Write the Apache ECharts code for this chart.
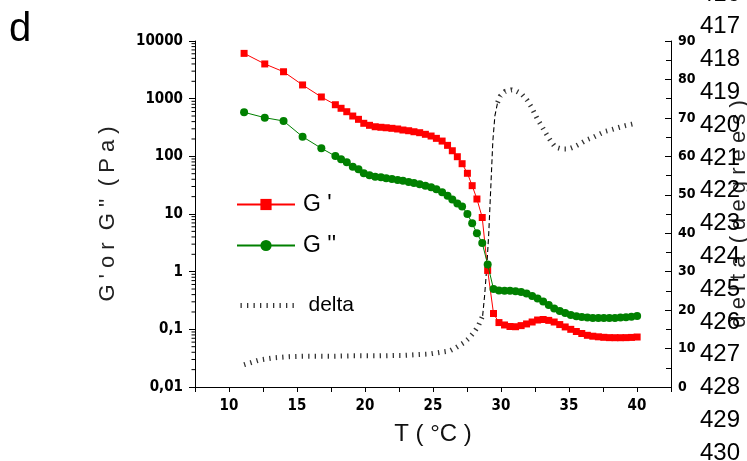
<!DOCTYPE html>
<html><head><meta charset="utf-8">
<script src="https://cdn.jsdelivr.net/npm/echarts@6/dist/echarts.min.js"></script>
<style>html,body{margin:0;padding:0;background:#fff}#c{width:747px;height:461px}</style>
</head><body><div id="c"></div>
<script>
// Temperature (°C) of each measured point (G' and G'')
var temps = [11.11,12.63,14.01,15.41,16.79,17.82,18.24,18.66,19.10,19.52,19.91,20.33,20.75,21.17,21.56,21.98,22.40,22.79,23.21,23.60,24.02,24.44,24.86,25.25,25.67,26.07,26.42,26.79,27.14,27.53,27.88,28.23,28.62,29.02,29.45,29.85,30.26,30.66,31.07,31.48,31.88,32.29,32.69,33.10,33.51,33.91,34.32,34.72,35.13,35.54,35.94,36.35,36.75,37.16,37.56,37.97,38.38,38.78,39.19,39.59,40.01];
// G' (Pa)
var gPrime = [6100,4000,2930,1730,1070,785,681,594,500,438,374,345,326,319,313,306,298,286,278,267,257,241,225,205,184,155,125,98.5,74.5,50.8,31,18.2,8.7,1.05,0.188,0.131,0.119,0.112,0.111,0.116,0.124,0.134,0.145,0.148,0.143,0.134,0.121,0.110,0.100,0.0917,0.0847,0.0788,0.076,0.0742,0.0727,0.0718,0.0716,0.0716,0.0718,0.0724,0.0736];
// G'' (Pa)
var gDouble = [580,468,410,219,138,101,88.8,78.7,66.1,59.6,50.8,46.9,44.4,43.3,41.6,40.5,38.8,37.8,35.9,34.5,32.7,31.0,29.1,26.8,23.8,20.7,17.8,15.2,13.5,10.0,6.9,4.62,3.14,1.33,0.50,0.471,0.468,0.468,0.458,0.444,0.418,0.378,0.343,0.304,0.264,0.230,0.208,0.192,0.177,0.168,0.164,0.160,0.157,0.157,0.157,0.157,0.158,0.160,0.162,0.165,0.170];
// delta (degrees)
var deltaT = [11.11,12.21,13.32,14.43,15.53,16.64,17.75,18.86,19.96,21.07,22.18,22.79,23.77,24.76,25.50,26.24,26.73,27.22,27.59,28.01,28.33,28.65,28.80,28.95,29.10,29.25,29.40,29.55,29.75,29.95,30.30,30.79,31.16,31.53,31.90,32.27,32.63,33.00,33.37,33.67,33.99,34.48,34.97,35.34,35.83,36.32,36.81,37.31,37.68,38.10,38.66,39.15,39.65,40.01];
var deltaVal = [5.8,7.0,7.6,7.9,8.0,8.0,8.0,8.1,8.1,8.1,8.2,8.2,8.4,8.6,9.0,9.4,10.3,11.4,12.5,14.2,15.9,18.5,24,31,40,52,64,70.5,74,75.7,76.9,77.3,76.9,76.2,74.7,72.6,70.0,67.8,65.6,63.9,62.4,61.9,61.9,62.4,63.3,64.3,65.0,65.9,66.5,66.9,67.5,68.0,68.4,68.7];
// tick labels
var xTickLabels = [10,15,20,25,30,35,40];
var leftTickLabels = ['0,01','0,1','1','10','100','1000','10000'];
var rightTickLabels = [0,10,20,30,40,50,60,70,80,90];
var lineNumbers = [416,417,418,419,420,421,422,423,424,425,426,427,428,429,430];

var steepLo = 28.65, steepHi = 29.75;
var deltaFlat = deltaT.map(function(t,i){ return (t<=steepLo||t>=steepHi)?[t,deltaVal[i]]:[t,'-']; });
var deltaSteep = deltaT.map(function(t,i){ return (t>=steepLo&&t<=steepHi)?[t,deltaVal[i]]:[t,'-']; });

// minor tick values of the log axis (2..9 within each decade)
var minorVals = [];
[0.01,0.1,1,10,100,1000].forEach(function(d){ for(var k=2;k<=9;k++) minorVals.push(+(d*k).toPrecision(3)); });

var labFont = "'DejaVu Sans Condensed','Liberation Sans Narrow','DejaVu Sans',sans-serif";
var nameFont = "'Liberation Sans',Arial,sans-serif";
var deltaLine = {color:'#333', width:5, type:[1.3,5.2]};

var chart = echarts.init(document.getElementById('c'));
var graphics = [{type:'text', left:9, top:10, style:{text:'d', font:'40px '+nameFont, fill:'#000'}}];
lineNumbers.forEach(function(n){
  graphics.push({type:'text', x:700, y:26.7+(n-417)*32.8, style:{text:String(n), font:'24px '+nameFont, fill:'#000', verticalAlign:'middle', align:'left'}, z:10});
});

chart.setOption({
  animation:false,
  backgroundColor:'#fff',
  grid:{left:195, right:76, top:41, bottom:74, containLabel:false, outerBoundsMode:'none'},
  legend:[
    {orient:'vertical', left:231, top:188, itemWidth:58, itemHeight:14, itemGap:18, data:["G '","G ''"],
     textStyle:{fontFamily:nameFont, fontSize:23, color:'#000', padding:[0,0,0,3]}},
    {orient:'vertical', left:233, top:290, itemWidth:55, itemHeight:14,
     data:[{name:'delta', itemStyle:{opacity:0}, lineStyle:deltaLine}],
     textStyle:{fontFamily:nameFont, fontSize:21, color:'#000', padding:[0,0,0,8]}}
  ],
  xAxis:{type:'value', min:7.5, max:42.5, interval:2.5,
    name:'T ( °C )', nameLocation:'middle', nameGap:35,
    nameTextStyle:{fontFamily:nameFont, fontSize:24, color:'#111'},
    axisLine:{lineStyle:{color:'#000', width:1}},
    axisTick:{inside:false, length:5, lineStyle:{color:'#000'}},
    splitLine:{show:false},
    axisLabel:{margin:12, fontFamily:labFont, fontWeight:'bold', fontSize:15, color:'#000',
      formatter:function(v){ return xTickLabels.indexOf(v)>=0 ? String(v) : ''; }}
  },
  yAxis:[
    {type:'log', logBase:10, min:0.01, max:10000, position:'left',
     name:'G \' o r  G \'\'  ( P a )', nameLocation:'middle', nameGap:76, nameRotate:90,
     nameTextStyle:{fontFamily:nameFont, fontSize:22, color:'#222'},
     axisLine:{show:true, lineStyle:{color:'#000'}},
     axisTick:{inside:false, length:6, lineStyle:{color:'#000'}},
     splitLine:{show:false},
     axisLabel:{margin:12, fontFamily:labFont, fontWeight:'bold', fontSize:15, color:'#000',
       formatter:function(v){ var e=Math.round(Math.log10(v)); return leftTickLabels[e+2]; }}
    },
    {type:'value', min:0, max:90, interval:10, position:'right',
     name:'d e l t a  ( d e g r e e s )', nameLocation:'middle', nameGap:57, nameRotate:90,
     nameTextStyle:{fontFamily:nameFont, fontSize:22, color:'#222'},
     axisLine:{show:true, lineStyle:{color:'#000'}},
     axisTick:{inside:true, length:6, lineStyle:{color:'#000'}},
     minorTick:{show:true, splitNumber:2, length:5, lineStyle:{color:'#000'}},
     splitLine:{show:false},
     axisLabel:{margin:7, fontFamily:labFont, fontWeight:'bold', fontSize:14, color:'#000',
       formatter:function(v){ return rightTickLabels.indexOf(v)>=0 ? String(v) : ''; }}
    }
  ],
  series:[
    {name:'minor-ticks', type:'custom', xAxisIndex:0, yAxisIndex:0, silent:true, clip:false,
     data:minorVals.map(function(v){ return [7.5, v]; }),
     renderItem:function(params, api){
       var p = api.coord([api.value(0), api.value(1)]);
       return {type:'line', shape:{x1:p[0]-3.5, y1:p[1], x2:p[0], y2:p[1]}, style:{stroke:'#000', lineWidth:1}};
     }, z:1},
    {name:"G '", type:'line', yAxisIndex:0, symbol:'rect', symbolSize:7,
     itemStyle:{color:'#ff0000'}, lineStyle:{color:'#ff0000', width:1},
     data:temps.map(function(t,i){return [t,gPrime[i]];}), z:3},
    {name:"G ''", type:'line', yAxisIndex:0, symbol:'circle', symbolSize:8,
     itemStyle:{color:'#008000'}, lineStyle:{color:'#008000', width:1},
     data:temps.map(function(t,i){return [t,gDouble[i]];}), z:4},
    {name:'delta', type:'line', yAxisIndex:1, symbol:'none', showSymbol:false,
     lineStyle:deltaLine, itemStyle:{color:'#333'},
     data:deltaFlat, z:2},
    {name:'delta-steep', type:'line', yAxisIndex:1, symbol:'none', showSymbol:false,
     lineStyle:{color:'#000', width:1.1, type:[5,3]},
     data:deltaSteep, z:2}
  ],
  graphic:graphics
});
</script></body></html>
